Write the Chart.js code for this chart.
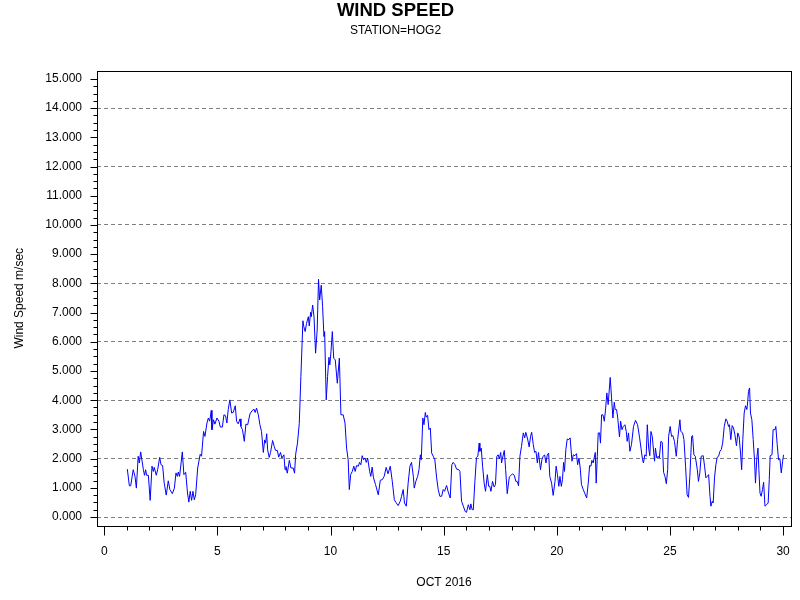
<!DOCTYPE html>
<html>
<head>
<meta charset="utf-8">
<script src="https://cdn.jsdelivr.net/npm/chart.js@4.4.1/dist/chart.umd.min.js"></script>
<style>
  html, body { margin: 0; padding: 0; background: #fff; }
  #wind { display: block; }
</style>
</head>
<body>
<canvas id="wind" width="800" height="600"></canvas>
<script>
// day of month (fractional) and hourly wind speed
const days = [
  1.02,1.11,1.17,1.28,1.36,1.42,1.50,1.55,1.61,1.73,1.78,1.83,1.87,1.95,2.03,2.11,2.17,2.21,2.30,2.36,
  2.45,2.51,2.58,2.65,2.74,2.83,2.90,3.01,3.10,3.17,3.23,3.27,3.33,3.45,3.52,3.60,3.68,3.74,3.80,3.86,
  3.92,3.98,4.04,4.13,4.24,4.30,4.39,4.45,4.54,4.60,4.66,4.73,4.76,4.83,4.89,4.98,5.07,5.13,5.22,5.29,
  5.36,5.42,5.48,
  5.55,5.63,5.70,5.79,5.85,5.92,6.00,6.04,6.11,6.19,6.26,6.34,6.44,6.53,6.62,6.67,6.73,6.81,6.88,6.95,
  7.03,7.09,7.13,7.18,7.22,7.29,7.35,7.44,7.51,7.57,7.65,7.71,7.79,7.85,7.94,7.99,8.03,8.09,8.18,8.25,
  8.35,8.41,8.46,8.54,8.62,8.69,8.78,8.82,8.88,8.94,9.02,9.06,9.12,9.15,9.21,9.27,9.34,9.41,9.47,9.52,
  9.59,9.65,9.71,9.74,9.81,9.87,9.93,9.97,10.02,10.08,10.14,10.21,10.30,10.39,10.46,10.56,
  10.64,10.71,10.78,10.83,10.89,10.96,11.03,11.09,11.15,11.23,11.28,11.34,11.40,11.46,11.52,11.58,11.64,11.73,11.78,11.84,
  11.90,11.99,12.11,12.20,12.29,12.37,12.46,12.54,12.64,12.73,12.82,12.89,12.99,13.08,13.14,13.21,13.27,13.35,13.43,13.51,
  13.58,13.66,13.70,13.77,13.85,13.91,13.97,14.01,14.08,14.13,14.19,14.23,14.29,14.35,14.41,14.47,14.54,14.61,14.69,14.76,
  14.83,14.91,14.98,15.04,15.13,15.20,15.29,15.36,15.42,15.50,15.57,15.67,
  15.72,15.79,15.87,15.95,16.01,16.09,16.16,16.20,16.26,16.31,16.38,16.45,16.51,16.57,16.60,16.66,16.72,16.79,16.85,16.93,
  16.99,17.04,17.09,17.16,17.23,17.29,17.35,17.41,17.46,17.52,17.56,17.60,17.68,17.74,17.81,17.90,17.97,18.04,18.12,18.19,
  18.25,18.31,18.37,18.44,18.52,18.58,18.63,18.71,18.78,18.84,18.89,18.96,19.02,19.08,19.14,19.19,19.28,19.34,19.40,19.46,
  19.52,19.58,19.64,19.69,19.77,19.84,19.92,19.97,20.03,20.09,20.14,20.20,20.25,20.30,20.34,20.40,20.46,20.53,20.59,20.67,
  20.73,
  20.80,20.87,20.92,20.98,21.04,21.09,21.17,21.24,21.32,21.39,21.45,21.51,21.55,21.61,21.65,21.70,21.74,21.79,21.83,21.89,
  21.93,21.98,22.04,22.10,22.16,22.21,22.27,22.36,22.42,22.48,22.54,22.58,22.64,22.69,22.77,22.82,22.88,22.94,23.01,23.07,
  23.11,23.17,23.23,23.30,23.39,23.48,23.57,23.66,23.72,23.79,23.83,23.89,23.95,24.00,24.06,24.11,24.16,24.22,24.26,24.32,
  24.36,24.42,24.48,24.53,24.60,24.66,24.72,24.78,24.84,24.90,24.94,25.01,25.07,25.13,25.20,25.28,25.34,
  25.44,25.48,25.56,25.62,25.69,25.76,25.82,25.88,25.96,26.00,26.06,26.12,26.21,26.26,26.32,26.38,26.47,26.53,26.59,26.65,
  26.71,26.77,26.81,26.87,26.91,26.97,27.03,27.09,27.15,27.21,27.27,27.33,27.40,27.47,27.53,27.59,27.63,27.69,27.75,27.81,
  27.87,27.94,28.00,28.06,28.12,28.17,28.22,28.28,28.34,28.40,28.44,28.47,28.52,28.56,28.62,28.68,28.74,28.78,28.84,28.89,
  28.93,28.98,29.03,29.09,29.14,29.20,29.27,29.34,29.39,29.43,29.51,29.56,29.64,29.68,29.74,29.80,29.86,29.92,29.98,30.02
];

const windSpeed = [
  1.64,1.07,1.07,1.62,1.39,0.99,2.08,1.85,2.23,1.62,1.43,1.62,1.43,1.43,0.57,1.74,1.56,1.70,1.43,1.62,
  2.04,1.79,1.76,1.16,0.75,1.24,0.94,0.80,0.99,1.51,1.39,1.54,1.39,2.23,1.45,1.53,0.82,0.51,0.88,0.57,
  0.88,0.59,0.76,1.68,2.15,2.08,2.93,2.76,3.22,3.39,3.28,3.65,2.99,3.33,3.18,3.39,3.28,3.08,3.08,3.50,
  3.47,3.22,3.68,
  4.01,3.56,3.58,3.81,3.27,3.19,3.36,3.10,2.99,2.59,3.18,3.16,3.53,3.64,3.69,3.58,3.73,3.50,3.16,2.93,
  2.21,2.64,2.53,2.85,2.30,2.04,2.21,2.62,2.42,2.28,2.28,2.05,2.21,2.02,2.13,1.62,1.73,1.50,1.94,1.68,
  1.68,1.50,2.15,2.53,3.21,4.81,6.72,6.52,6.35,6.63,6.86,6.54,7.01,6.86,7.26,6.86,5.61,6.40,8.14,7.43,
  7.94,7.20,6.18,6.35,4.01,4.81,5.47,5.21,5.66,6.35,5.44,5.38,4.58,5.44,3.50,3.50,
  3.22,2.36,1.96,0.94,1.45,1.56,1.74,1.56,1.76,1.74,1.87,1.79,2.10,1.96,2.02,1.87,2.02,1.56,1.39,1.71,
  1.34,1.11,0.76,1.26,1.28,1.39,1.70,1.48,1.74,1.22,0.59,0.50,0.39,0.54,0.71,0.94,0.48,0.37,1.16,1.74,
  1.87,1.39,0.99,1.22,1.39,1.62,2.13,1.96,3.39,3.16,3.58,3.42,3.48,2.99,3.05,2.19,2.08,1.96,1.34,0.94,
  0.71,0.71,0.94,0.88,1.08,0.86,0.65,1.79,1.87,1.79,1.64,1.62,
  1.56,0.54,0.37,0.19,0.16,0.42,0.25,0.45,0.25,0.25,1.22,2.04,2.08,2.53,2.25,2.36,1.74,1.16,0.88,1.45,
  1.05,1.05,0.88,1.22,1.03,1.11,2.08,2.13,1.99,2.21,1.85,2.02,2.28,1.62,0.80,1.37,1.42,1.48,1.43,1.22,
  1.22,1.07,2.08,2.42,2.88,2.71,2.90,2.67,2.40,2.76,2.90,2.48,2.21,2.25,1.85,2.21,1.62,1.96,2.08,2.13,
  1.85,2.13,2.19,1.39,1.16,0.74,1.22,1.74,1.45,1.05,1.39,1.05,1.28,1.87,1.56,2.31,2.67,2.65,2.71,1.91,
  2.13,
  2.10,2.17,1.79,2.02,1.64,1.11,0.94,0.80,0.65,1.16,1.76,1.74,1.94,1.85,2.02,2.21,1.16,2.08,2.88,2.88,
  2.53,3.50,3.50,3.28,3.73,4.25,3.85,4.78,4.08,3.39,3.93,3.68,3.68,3.42,2.74,3.28,2.99,3.10,3.16,2.93,
  2.59,2.88,2.25,2.48,3.10,3.31,3.16,2.71,2.36,1.96,1.85,2.13,2.08,3.16,2.36,2.10,2.93,2.76,2.40,1.91,
  2.36,2.02,2.08,2.02,2.59,2.56,1.53,1.39,1.14,1.62,2.76,3.10,2.76,2.79,2.59,2.08,2.65,
  3.33,2.93,2.88,2.65,1.74,0.76,0.67,1.39,2.76,2.79,2.13,2.08,1.62,1.22,1.51,2.08,2.10,1.74,1.34,1.39,
  1.45,0.71,0.37,0.54,0.48,1.34,1.79,2.05,2.08,2.25,2.31,2.53,3.10,3.36,3.28,3.10,3.16,2.65,3.13,3.05,
  2.82,2.44,2.88,2.74,2.19,1.62,2.65,3.56,3.81,3.68,3.97,4.30,4.42,3.56,3.33,2.65,1.91,1.16,2.02,2.36,
  1.62,0.82,0.71,0.94,1.19,0.37,0.42,0.48,1.28,2.10,2.13,2.99,2.99,3.10,2.48,1.96,1.99,1.51,1.91,2.13
];

const xTicks = [0, 5, 10, 15, 20, 25, 30];
const yTicks = [0, 1, 2, 3, 4, 5, 6, 7, 8, 9, 10, 11, 12, 13, 14, 15];
const yGridEvery = 2;
const xMinorStep = 1;
const yMinorStep = 0.25;

const fontFamily = '"Liberation Sans", Arial, sans-serif';

// frame round the plot plus major/minor tick marks
const frameAndTicks = {
  id: 'frameAndTicks',
  afterDraw(chart) {
    const { ctx, chartArea: a, scales: { x, y } } = chart;
    const L = Math.round(a.left) + 0.5, R = Math.round(a.right) + 0.5;
    const T = Math.round(a.top) + 0.5, B = Math.round(a.bottom) + 0.5;
    ctx.save();
    ctx.strokeStyle = '#000';
    ctx.lineWidth = 1;
    ctx.strokeRect(L, T, R - L, B - T);
    ctx.beginPath();
    for (let v = xTicks[0]; v <= xTicks[xTicks.length - 1]; v += xMinorStep) {
      const px = Math.round(x.getPixelForValue(v)) + 0.5;
      const len = xTicks.includes(v) ? 9 : 4;
      ctx.moveTo(px, B);
      ctx.lineTo(px, B + len);
    }
    const ySteps = (yTicks[yTicks.length - 1] - yTicks[0]) / yMinorStep;
    for (let i = 0; i <= ySteps; i++) {
      const v = yTicks[0] + i * yMinorStep;
      const py = Math.round(y.getPixelForValue(v)) + 0.5;
      const len = Number.isInteger(v) ? 7 : 4;
      ctx.moveTo(L, py);
      ctx.lineTo(L - len, py);
    }
    ctx.stroke();
    ctx.restore();
  }
};

const points = days.map((d, i) => ({ x: d, y: windSpeed[i] }));

new Chart(document.getElementById('wind').getContext('2d'), {
  type: 'line',
  data: {
    datasets: [{
      data: points,
      borderColor: '#0000ff',
      borderWidth: 1,
      pointRadius: 0,
      tension: 0,
      fill: false
    }]
  },
  options: {
    responsive: false,
    animation: false,
    devicePixelRatio: 1,
    layout: { padding: { left: 0, right: 9, top: 0, bottom: 0 } },
    plugins: {
      legend: { display: false },
      tooltip: { enabled: false },
      title: {
        display: true,
        text: 'WIND SPEED',
        color: '#000',
        font: { family: fontFamily, size: 18.5, weight: 'bold', lineHeight: 1 },
        padding: { top: 1.5, bottom: 0 }
      },
      subtitle: {
        display: true,
        text: 'STATION=HOG2',
        color: '#000',
        font: { family: fontFamily, size: 12, lineHeight: 1 },
        padding: { top: 5, bottom: 33.5 }
      }
    },
    scales: {
      x: {
        type: 'linear',
        min: -0.32,
        max: 30.35,
        afterBuildTicks: (scale) => { scale.ticks = xTicks.map(v => ({ value: v })); },
        afterFit: (scale) => {
          scale.height = 74;
          scale.paddingLeft = 0;
          scale.paddingRight = 0;
        },
        grid: { display: false, drawTicks: false },
        border: { display: false },
        ticks: {
          autoSkip: false,
          maxRotation: 0,
          padding: 18.5,
          color: '#000',
          font: { family: fontFamily, size: 12 },
          callback: (v) => String(v)
        },
        title: {
          display: true,
          text: 'OCT 2016',
          color: '#000',
          font: { family: fontFamily, size: 12 },
          padding: { top: 0, bottom: 9.8 }
        }
      },
      y: {
        type: 'linear',
        min: -0.308,
        max: 15.29,
        afterBuildTicks: (scale) => { scale.ticks = yTicks.map(v => ({ value: v })); },
        afterFit: (scale) => {
          scale.width = 97;
          scale.paddingTop = 0;
          scale.paddingBottom = 0;
        },
        grid: {
          drawTicks: false,
          lineWidth: 1,
          color: (c) => (c.tick && c.tick.value % yGridEvery === 0 && c.tick.value < 15) ? '#808080' : 'rgba(0,0,0,0)'
        },
        border: { display: false, dash: [4, 3] },
        ticks: {
          autoSkip: false,
          padding: 15,
          color: '#000',
          font: { family: fontFamily, size: 12 },
          callback: (v) => Number(v).toFixed(3)
        },
        title: {
          display: true,
          text: 'Wind Speed m/sec',
          color: '#000',
          font: { family: fontFamily, size: 12 },
          padding: { top: 12.8, bottom: 0 }
        }
      }
    }
  },
  plugins: [frameAndTicks]
});
</script>
</body>
</html>
